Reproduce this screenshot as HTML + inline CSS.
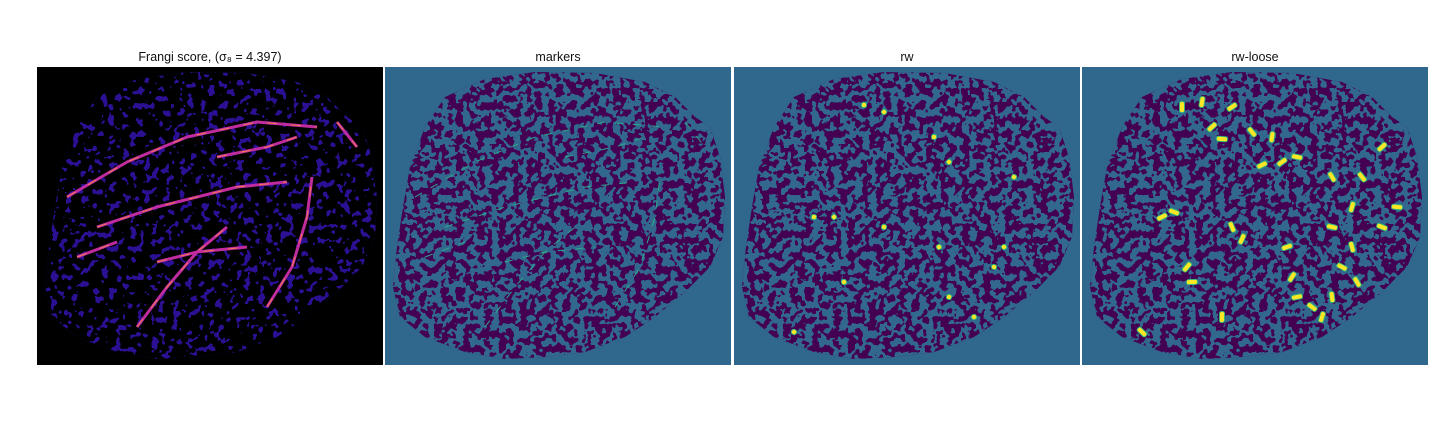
<!DOCTYPE html>
<html><head><meta charset="utf-8"><style>
body{margin:0;background:#fff;width:1440px;height:432px;overflow:hidden;font-family:"Liberation Sans","DejaVu Sans",sans-serif}
svg{position:absolute;left:0;top:0}
</style></head><body>
<svg id="fig" width="1440" height="432" xmlns="http://www.w3.org/2000/svg">
<defs>
<filter id="tex" x="0" y="0" width="100%" height="100%">
<feTurbulence type="fractalNoise" baseFrequency="0.14" numOctaves="2" seed="4" result="n"/>
<feColorMatrix in="n" type="matrix" values="0 0 0 0 0  0 0 0 0 0  0 0 0 0 0  1 0 0 0 0" result="a"/>
<feComponentTransfer in="a" result="b"><feFuncA type="discrete" tableValues="0 0 0 0 0 1 1 1 1 1"/></feComponentTransfer>
<feComposite in="SourceGraphic" in2="b" operator="in"/>
</filter>
<filter id="tex1" x="0" y="0" width="100%" height="100%">
<feTurbulence type="fractalNoise" baseFrequency="0.14" numOctaves="2" seed="4" result="n"/>
<feColorMatrix in="n" type="matrix" values="0 0 0 0 0  0 0 0 0 0  0 0 0 0 0  1 0 0 0 0" result="a"/>
<feComponentTransfer in="a" result="b"><feFuncA type="discrete" tableValues="0 0 0 0 1 1 1 1 1 1"/></feComponentTransfer>
<feComposite in="SourceGraphic" in2="b" operator="in"/>
</filter>
</defs>
<g id="panels"></g>
</svg>
<script>
const NS='http://www.w3.org/2000/svg';
const titles=['Frangi score, (σ₈ = 4.397)','markers','rw','rw-loose'];
const panelX=[37,385,734,1082];
const outline=[[60,30],[100,12],[150,5],[210,6],[260,15],[290,30],[310,50],[325,60],[335,90],[340,130],[338,170],[325,200],[300,225],[270,250],[240,270],[200,285],[160,290],[120,292],[80,285],[40,270],[15,250],[8,220],[12,180],[18,140],[25,100],[40,60]];
const vessels=[[[30,130],[90,95],[150,70],[220,55],[280,60]],[[60,160],[120,140],[200,120],[250,115]],[[100,260],[130,220],[160,185],[190,160]],[[230,240],[255,200],[270,150],[275,110]],[[120,195],[160,185],[210,180]],[[300,55],[320,80]],[[40,190],[80,175]],[[180,90],[230,80],[260,70]]];
const loose=[[100,40],[130,60],[140,72],[170,65],[190,70],[200,95],[215,90],[250,110],[270,140],[80,150],[92,145],[150,160],[160,172],[205,180],[260,200],[270,180],[210,210],[215,230],[230,240],[250,230],[105,200],[110,215],[60,265],[140,250],[300,80],[315,140],[280,110],[120,35],[150,40],[250,160],[275,215],[240,250],[180,98],[300,160]];
const rw=[[130,38],[150,45],[200,70],[215,95],[80,150],[100,150],[150,160],[205,180],[260,200],[270,180],[215,230],[240,250],[60,265],[110,215],[280,110]];
const wrap=document.getElementById('panels');
function el(t,a,p){const e=document.createElementNS(NS,t);for(const k in a)e.setAttribute(k,a[k]);(p||wrap).appendChild(e);return e;}
const d='M'+outline.map(p=>p.join(',')).join('L')+'Z';
panelX.forEach((x0,i)=>{
  const g=el('g',{transform:`translate(${x0},67)`});
  
  
  const t=el('text',{x:173,y:-6,'text-anchor':'middle','font-size':12.5,fill:'#111'},g);
  t.textContent=titles[i];
  
  
  const bg=i==0?'#000':'#30678d', tis=i==0?'#2c1094':'#440154', hole=i==0?'#000':'#30678d';
  el('rect',{width:346,height:298,fill:bg},g);
  const cp=el('clipPath',{id:'cp'+i},g);el('path',{d},cp);
  const tg=el('g',{'clip-path':`url(#cp${i})`},g);
  
  
  el('rect',{width:346,height:298,fill:tis},tg);
  const hg=el('g',{filter:i==0?'url(#tex1)':'url(#tex)'},tg);
  el('rect',{width:346,height:298,fill:hole},hg);
  if(i==0){vessels.forEach(v=>{const p=el('path',{d:'M'+v.map(q=>q.join(',')).join('L'),fill:'none',stroke:'#c02ca0','stroke-width':3,'stroke-linejoin':'round'},tg);
    el('path',{d:'M'+v.map(q=>q.join(',')).join('L'),fill:'none',stroke:'#f07a50','stroke-width':1,'stroke-dasharray':'10 14'},tg);});}
  if(i==1){vessels.forEach(v=>{const p=el('path',{d:'M'+v.map(q=>q.join(',')).join('L'),fill:'none',stroke:'#2ea88a','stroke-width':1,'stroke-dasharray':'8 10'},tg);});}
  if(i>=2){const pts=i==2?rw:loose, w=i==2?5:11;
    pts.forEach((q,k)=>{const a=(k*47)%180;const r=el('rect',{x:q[0]-w/2,y:q[1]-2.5,width:w,height:5,rx:2,fill:'#fde725',stroke:'#35b779','stroke-width':1,transform:`rotate(${a-90} ${q[0]} ${q[1]})`},tg);
      });}
});
</script>
</body></html>
